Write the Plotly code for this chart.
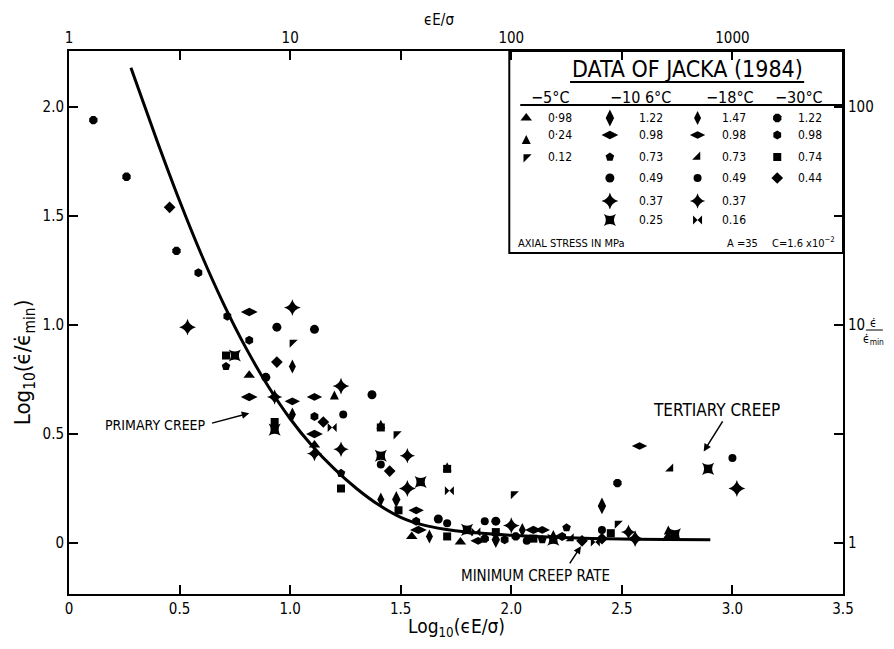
import plotly.graph_objects as go

# ---------------- data ----------------
# reference curve
CURVE_X = [0.28, 0.40, 0.50, 0.60, 0.70, 0.80, 0.90, 1.00, 1.10, 1.20, 1.30, 1.40, 1.50, 1.60, 1.70, 1.80, 2.00, 2.20, 2.50, 2.90]
CURVE_Y = [2.18, 1.84, 1.57, 1.32, 1.095, 0.895, 0.72, 0.57, 0.445, 0.34, 0.25, 0.175, 0.118, 0.083, 0.063, 0.050, 0.035, 0.026, 0.018, 0.015]

# -5 C
X_M5_098 = [0.815, 1.11, 1.55, 1.77, 2.71]
Y_M5_098 = [0.77, 0.45, 0.03, 0.005, 0.03]
X_M5_024 = [1.20, 1.41, 1.71, 2.19, 2.71]
Y_M5_024 = [0.70, 0.565, 0.37, 0.06, 0.08]
X_M5_012 = [1.01, 1.48, 2.01, 2.48]
Y_M5_012 = [0.92, 0.50, 0.225, 0.09]
# -10.6 C
X_M106_122 = [1.48, 1.93, 2.41]
Y_M106_122 = [0.20, 0.015, 0.17]
X_M106_098 = [0.815, 0.815, 1.11, 1.58, 2.10]
Y_M106_098 = [1.06, 0.67, 0.50, 0.06, 0.06]
X_M106_073 = [0.71, 1.23, 2.14, 2.25]
Y_M106_073 = [0.81, 0.32, 0.015, 0.07]
X_M106_049 = [0.94, 1.11, 0.89, 1.37, 1.67, 1.93]
Y_M106_049 = [0.99, 0.98, 0.76, 0.68, 0.11, 0.10]
X_M106_037 = [0.536, 1.01, 1.23, 1.53, 2.00, 2.56, 3.02]
Y_M106_037 = [0.99, 1.08, 0.72, 0.25, 0.08, 0.02, 0.25]
X_M106_025 = [0.75, 0.93, 1.41, 1.59, 1.80, 2.19, 2.74, 2.89]
Y_M106_025 = [0.86, 0.52, 0.40, 0.28, 0.06, 0.015, 0.04, 0.34]
# -18 C
X_M18_147 = [1.01, 1.01, 1.41, 1.63, 2.05]
Y_M18_147 = [0.81, 0.59, 0.20, 0.03, 0.06]
X_M18_098 = [1.01, 1.11, 1.57, 1.85, 2.14, 2.58]
Y_M18_098 = [0.65, 0.67, 0.15, 0.01, 0.06, 0.445]
X_M18_073 = [2.27, 2.72]
Y_M18_073 = [0.02, 0.34]
X_M18_049 = [1.24, 1.41, 1.71, 1.88, 2.07, 2.41, 3.00]
Y_M18_049 = [0.59, 0.36, 0.09, 0.10, 0.01, 0.06, 0.39]
X_M18_037 = [0.93, 1.11, 1.23, 1.53, 2.53]
Y_M18_037 = [0.67, 0.41, 0.43, 0.40, 0.05]
X_M18_016 = [1.19, 1.72, 1.84, 2.38]
Y_M18_016 = [0.53, 0.24, 0.05, 0.005]
# -30 C
X_M30_122 = [0.11, 0.26, 0.486, 1.88, 2.02, 2.48]
Y_M30_122 = [1.94, 1.68, 1.34, 0.02, 0.03, 0.275]
X_M30_098 = [0.585, 0.716, 0.815, 1.11, 1.57, 1.97, 2.23]
Y_M30_098 = [1.24, 1.04, 0.93, 0.58, 0.10, 0.015, 0.03]
X_M30_074 = [0.71, 0.93, 1.23, 1.41, 1.49, 1.71, 1.71, 1.93, 2.10, 2.45]
Y_M30_074 = [0.86, 0.555, 0.25, 0.53, 0.15, 0.34, 0.03, 0.05, 0.02, 0.045]
X_M30_044 = [0.455, 0.94, 1.15, 1.45, 2.32, 2.41]
Y_M30_044 = [1.54, 0.83, 0.555, 0.33, 0.01, 0.02]

# legend table
TEMPS = ["\u22125\u00b0C", "\u221210 6\u00b0C", "\u221218\u00b0C", "\u221230\u00b0C"]
STRESS_M5 = ["0\u00b798", "0\u00b724", "0.12"]
STRESS_M106 = ["1.22", "0.98", "0.73", "0.49", "0.37", "0.25"]
STRESS_M18 = ["1.47", "0.98", "0.73", "0.49", "0.37", "0.16"]
STRESS_M30 = ["1.22", "0.98", "0.74", "0.44"]

X_TICKS = [0, 0.5, 1.0, 1.5, 2.0, 2.5, 3.0, 3.5]
X_TICK_TEXT = ["0", "0.5", "1.0", "1.5", "2.0", "2.5", "3.0", "3.5"]
Y_TICKS = [0, 0.5, 1.0, 1.5, 2.0]
Y_TICK_TEXT = ["0", "0.5", "1.0", "1.5", "2.0"]
TOP_TICKS = [0, 0.5, 1.0, 1.5, 2.0, 2.5, 3.0, 3.5]
TOP_TICK_TEXT = ["1", "", "10", "", "100", "", "1000", ""]
RIGHT_TICKS = [0, 0.5, 1.0, 1.5, 2.0]
RIGHT_TICK_TEXT = ["1", "", "10", "", "100"]

# ---------------- style / layout ----------------
# page body has an 8px margin; plot area in window pixels: x 69..846, y 51..594
OFF = 8
W, H = 894 - 2 * OFF, 649 - 2 * OFF
PX0, PX1, PY0, PY1 = 69, 846, 51, 594
L, T = PX0 - OFF, PY0 - OFF
R, B = W - (PX1 - OFF), H - (PY1 - OFF)
PW, PH = PX1 - PX0, PY1 - PY0
FONT = "Liberation Sans Narrow, DejaVu Sans Condensed, Liberation Sans, Arial"


def px(xw):
    return (xw - PX0) / PW


def py(yw):
    return (PY1 - yw) / PH


series = [
    (X_M5_098, Y_M5_098, "triangle-up", 10),
    (X_M5_024, Y_M5_024, "arrow-up", 9),
    (X_M5_012, Y_M5_012, "triangle-nw", 9),
    (X_M106_122, Y_M106_122, "diamond-tall", 12),
    (X_M106_098, Y_M106_098, "diamond-wide", 12),
    (X_M106_073, Y_M106_073, "pentagon", 9),
    (X_M106_049, Y_M106_049, "circle", 9),
    (X_M106_037, Y_M106_037, "star-diamond", 12),
    (X_M106_025, Y_M106_025, "star-square", 11),
    (X_M18_147, Y_M18_147, "diamond-tall", 10),
    (X_M18_098, Y_M18_098, "diamond-wide", 11),
    (X_M18_073, Y_M18_073, "triangle-se", 9),
    (X_M18_049, Y_M18_049, "circle", 8),
    (X_M18_037, Y_M18_037, "star-diamond", 11),
    (X_M18_016, Y_M18_016, "bowtie", 9),
    (X_M30_122, Y_M30_122, "octagon", 9),
    (X_M30_098, Y_M30_098, "hexagon", 9),
    (X_M30_074, Y_M30_074, "square", 8),
    (X_M30_044, Y_M30_044, "diamond", 9),
]

fig = go.Figure()

fig.add_trace(go.Scatter(x=CURVE_X, y=CURVE_Y, mode="lines",
                         line=dict(color="black", width=3, shape="spline", smoothing=0.8),
                         showlegend=False, hoverinfo="skip"))

for xs, ys, sym, sz in series:
    fig.add_trace(go.Scatter(x=xs, y=ys, mode="markers",
                             marker=dict(symbol=sym, size=sz, color="black", line=dict(width=0)),
                             showlegend=False))

# empty trace to activate top/right axes
fig.add_trace(go.Scatter(x=[None], y=[None], xaxis="x2", yaxis="y2", showlegend=False, hoverinfo="skip"))


def note(xw, yw, text, size, xanchor="center", **kw):
    fig.add_annotation(x=px(xw), y=py(yw), xref="paper", yref="paper", text=text, showarrow=False,
                       xanchor=xanchor, yanchor="middle",
                       font=dict(size=size, color="black", family=FONT), **kw)


# legend symbols on a pixel-coordinate overlay axis
ROW_Y = [118, 135, 157, 178, 201, 220]
SYM_X = [528, 612, 700, 780]
VAL_X = [562, 653, 737, 813]
HEAD_X = [552, 643, 733, 802]
groups = [STRESS_M5, STRESS_M106, STRESS_M18, STRESS_M30]
idx = 0
for c, vals in enumerate(groups):
    for r, v in enumerate(vals):
        _, _, sym, sz = series[idx]
        fig.add_trace(go.Scatter(x=[SYM_X[c]], y=[ROW_Y[r]], xaxis="x3", yaxis="y3", mode="markers",
                                 marker=dict(symbol=sym, size=sz, color="black", line=dict(width=0)),
                                 showlegend=False, hoverinfo="skip"))
        note(VAL_X[c], ROW_Y[r], v, 12)
        idx += 1
    note(HEAD_X[c], 97, TEMPS[c], 16)

axis_common = dict(showgrid=False, zeroline=False, showline=True, linecolor="black", linewidth=2,
                   ticks="inside", ticklen=9, tickwidth=1.5, tickcolor="black",
                   tickfont=dict(size=15, color="black", family=FONT))

fig.update_layout(
    width=W, height=H,
    margin=dict(l=L, r=R, t=T, b=B, pad=0),
    paper_bgcolor="white", plot_bgcolor="white",
    showlegend=False,
    xaxis=dict(range=[0, 3.5], tickvals=X_TICKS, ticktext=X_TICK_TEXT, **axis_common),
    yaxis=dict(range=[-0.234, 2.257], tickvals=Y_TICKS, ticktext=Y_TICK_TEXT, **axis_common),
    xaxis2=dict(range=[0, 3.5], overlaying="x", side="top", tickvals=TOP_TICKS, ticktext=TOP_TICK_TEXT,
                **axis_common),
    yaxis2=dict(range=[-0.234, 2.257], overlaying="y", side="right", tickvals=RIGHT_TICKS,
                ticktext=RIGHT_TICK_TEXT, **axis_common),
    xaxis3=dict(range=[PX0, PX1], overlaying="x", visible=False),
    yaxis3=dict(range=[PY1, PY0], overlaying="y", visible=False),
)

# legend box and rules
fig.add_shape(type="rect", xref="paper", yref="paper", x0=px(511), x1=1, y0=py(253), y1=1,
              line=dict(color="black", width=2))
fig.add_shape(type="line", xref="paper", yref="paper", x0=px(572), x1=px(807), y0=py(82), y1=py(82),
              line=dict(color="black", width=2))
fig.add_shape(type="line", xref="paper", yref="paper", x0=px(522), x1=1, y0=py(105), y1=py(105),
              line=dict(color="black", width=2))
note(690, 69, "DATA OF JACKA (1984)", 23)
note(518, 243, "AXIAL STRESS IN MPa", 11, xanchor="left")
note(745, 243, "A =35", 11)
note(806, 242, "C=1.6 x10<sup>\u22122</sup>", 11)

# axis titles
note(458, 627, "Log<sub>10</sub>(\u03f5E/\u03c3)", 19)
note(24, 362, "Log<sub>10</sub>(\u03f5\u0307/\u03f5\u0307<sub>min</sub>)", 22, textangle=-90)
note(440, 20, "\u03f5E/\u03c3", 15)
note(877, 331, "\u03f5\u0307<br>\u03f5\u0307<sub>min</sub>", 12)
fig.add_shape(type="line", xref="paper", yref="paper", x0=px(869), x1=px(886), y0=py(330), y1=py(330),
              line=dict(color="black", width=1))

# callouts
fig.add_annotation(x=0.39, y=0.54, text="PRIMARY CREEP", showarrow=False,
                   font=dict(size=14, color="black", family=FONT))
fig.add_annotation(x=0.815, y=0.595, ax=0.64, ay=0.548, axref="x", ayref="y", text="",
                   showarrow=True, arrowhead=2, arrowsize=1, arrowwidth=1.5, arrowcolor="black")
fig.add_annotation(x=2.93, y=0.61, text="TERTIARY CREEP", showarrow=False,
                   font=dict(size=17, color="black", family=FONT))
fig.add_annotation(x=2.87, y=0.42, ax=2.96, ay=0.565, axref="x", ayref="y", text="",
                   showarrow=True, arrowhead=2, arrowsize=1, arrowwidth=1.5, arrowcolor="black")
fig.add_annotation(x=2.11, y=-0.152, text="MINIMUM CREEP RATE", showarrow=False,
                   font=dict(size=15, color="black", family=FONT))
fig.add_annotation(x=2.315, y=-0.015, ax=2.26, ay=-0.10, axref="x", ayref="y", text="",
                   showarrow=True, arrowhead=2, arrowsize=1, arrowwidth=1.5, arrowcolor="black")

fig.write_html("out.html")
